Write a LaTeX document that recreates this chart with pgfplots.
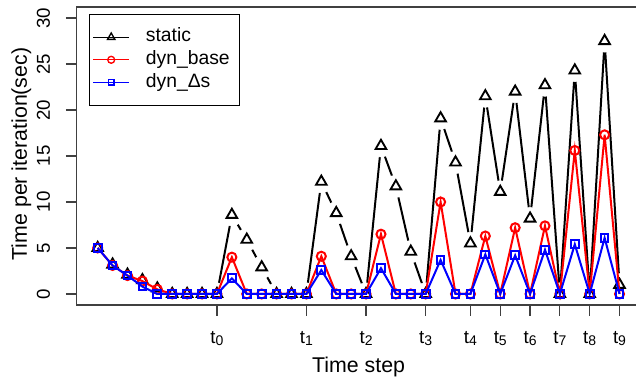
\documentclass[border=0pt]{standalone}
\usepackage{fontspec}
\setmainfont{Liberation Sans}
\usepackage{pgfplots}
\pgfplotsset{compat=1.18}
\usepackage{pgfplotstable}

\pgfplotstableread{
i  s     b     d
0  5.0   5.0   5.0
1  3.2   3.1   3.1
2  2.1   2.0   2.0
3  1.5   1.4   0.8
4  0.6   0.5   0.0
5  0     0     0
6  0     0     0
7  0     0     0
8  0     0     0
9  8.6   4.0   1.7
10 5.9   0     0
11 2.9   0     0
12 0     0     0
13 0     0     0
14 0     0     0
15 12.2  4.1   2.6
16 8.8   0     0
17 4.1   0     0
18 0     0     0
19 16.1  6.5   2.8
20 11.7  0     0
21 4.6   0     0
22 0     0     0
23 19.1  10.0  3.7
24 14.3  0     0
25 5.5   0     0
26 21.5  6.3   4.3
27 11.1  0     0
28 22.0  7.2   4.2
29 8.2   0     0
30 22.7  7.4   4.8
31 0     0     0
32 24.3  15.6  5.4
33 0     0     0
34 27.5  17.3  6.1
35 1.0   0     0
}\data

\newcommand{\tl}[1]{t\raisebox{-1.8pt}{\fontsize{10.5}{12}\selectfont #1}}

\begin{document}
\begin{tikzpicture}
\path[use as bounding box] (-57.6pt,-57pt) rectangle (419.4pt,228.75pt);
\clip (-57.6pt,-57pt) rectangle (419.4pt,228.75pt);
\begin{axis}[
  at={(0,0)}, anchor=south west,
  scale only axis, width=422.7pt, height=223.5pt,
  xmin=-1.4, xmax=36.4, ymin=-1.2, ymax=31.2,
  axis on top, clip marker paths=true,
  axis line style={black!75, line width=0.9pt},
  xtick={8,14,18,22,25,27,29,31,33,35},
  xticklabels={{\tl{0}},{\tl{1}},{\tl{2}},{\tl{3}},{\tl{4}},{\tl{5}},{\tl{6}},{\tl{7}},{\tl{8}},{\tl{9}}},
  ytick={0,5,...,30},
  tick align=outside, xtick pos=bottom, ytick pos=left,
  major tick length=8.25pt,
  tick style={black!75, line width=0.9pt},
  /pgf/number format/assume math mode=true,
  ticklabel style={font=\fontsize{14}{16}\selectfont},
  yticklabel style={rotate=90, anchor=base, inner sep=0pt},
  xticklabel style={anchor=north, inner sep=0pt},
  yticklabel shift=12pt,
  xticklabel shift=11.25pt,
  xlabel={Time step}, ylabel={Time per iteration(sec)},
  label style={font=\fontsize{16}{19}\selectfont},
  xlabel style={at={([yshift=-50.3pt]axis description cs:0.5,0)}, anchor=base},
  ylabel style={at={([xshift=-37.5pt,yshift=1.5pt]axis description cs:0,0.5)}, anchor=base},
  legend image code/.code={\draw[mark repeat=2,mark phase=2,#1] plot coordinates {(0pt,0pt) (13.5pt,0pt) (27pt,0pt)};},
  legend cell align=left,
  legend style={at={(axis description cs:0,1)}, anchor=north west, xshift=9.15pt, yshift=-5.25pt,
    draw=black, line width=0.8pt, fill=white, font=\fontsize{14.5}{17}\selectfont,
    inner xsep=2.25pt, inner ysep=8.6pt, row sep=0pt, column sep=12pt,
    nodes={inner sep=0pt, text height=12pt, text depth=4.9pt}},
]
\addplot[black, line width=1.5pt, forget plot] table[x=i,y=s]{\data};
\addplot[only marks, mark=*, mark size=8.4pt, mark options={fill=white, draw=white}, forget plot] table[x=i,y=s]{\data};
\addplot[only marks, black, mark=triangle, mark size=4.6pt, mark options={line width=1.4pt}, forget plot] table[x=i,y=s]{\data};
\addplot[red, line width=1.5pt, mark=o, mark size=3.4pt, forget plot] table[x=i,y=b]{\data};
\addplot[blue, line width=1.5pt, mark=square, mark size=2.9pt, forget plot] table[x=i,y=d]{\data};
\addlegendimage{black, line width=1pt, mark=triangle, mark size=3.2pt}
\addlegendentry{static}
\addlegendimage{red, line width=1pt, mark=o, mark size=2.6pt}
\addlegendentry{dyn\_base\hspace*{5.25pt}}
\addlegendimage{blue, line width=1pt, mark=square, mark size=2.1pt}
\addlegendentry{dyn\_Δs}
\end{axis}
\end{tikzpicture}
\end{document}
